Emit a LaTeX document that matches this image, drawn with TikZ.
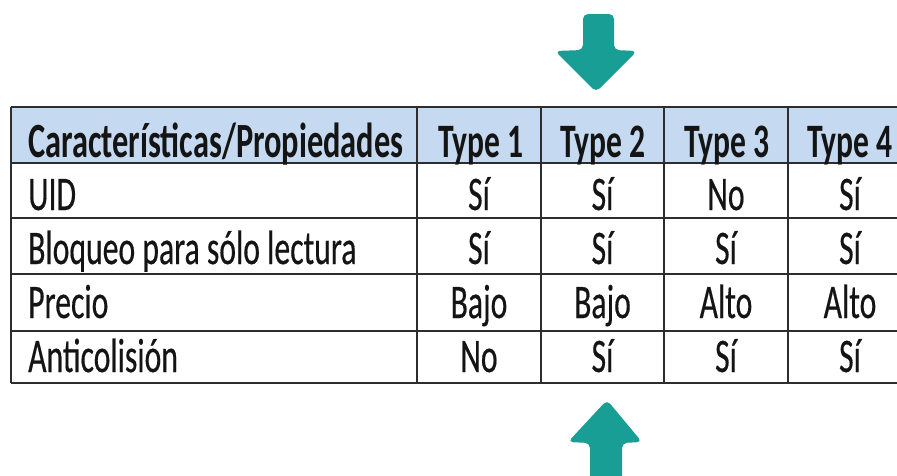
\documentclass[tikz,border=0pt]{standalone}
\usepackage{fontspec}
\setmainfont{Carlito}
\newfontfamily\bodyfont{Carlito}[FakeBold=0.5]
\newfontfamily\headfont{Carlito}[UprightFont=*-Bold]
\definecolor{arrowteal}{RGB}{24,158,148}
\definecolor{hdrblue}{RGB}{197,217,241}
\definecolor{gridgray}{RGB}{45,45,45}
\newcommand\tx[1]{\scalebox{1}[1.52]{#1}}
\begin{document}
\begin{tikzpicture}[x=1pt,y=-1pt,
  cell/.style={anchor=base, inner sep=0pt, font=\bodyfont\fontsize{31.7}{31.7}\selectfont, text=black!92},
  lcell/.style={cell, anchor=base west},
  hcell/.style={cell, font=\headfont\fontsize{31.6}{31.6}\selectfont},
  hlcell/.style={hcell, anchor=base west, font=\headfont\fontsize{32.4}{32.4}\selectfont},
  gridline/.style={draw=gridgray, line width=1.8pt},
  bigarrow/.style={fill=arrowteal, rounded corners=5pt}]
\useasboundingbox (0,0) rectangle (897,475);
\clip (0,0) rectangle (897,475);
\fill[white] (0,0) rectangle (897,475);
% header fill
\fill[hdrblue] (11,107) rectangle (912,163);
% grid
\foreach \yy in {107,163,218,274,331,383} \draw[gridline] (11,\yy) -- (912,\yy);
\foreach \xx in {11,417,541,664,788,912} \draw[gridline] (\xx,107) -- (\xx,383);
% column centres: 479, 602.5, 726, 850
\node[hlcell] (h0) at (28,157) {\tx{Características/Propiedades}};
\node[hcell] (h1) at (481,157) {\tx{Type 1}};
\node[hcell] (h2) at (603,157) {\tx{Type 2}};
\node[hcell] (h3) at (727,157) {\tx{Type 3}};
\node[hcell] (h4) at (850,157) {\tx{Type 4}};
\node[lcell] (r1c0) at (28,210) {\tx{UID}};
\node[cell] (r1c1) at (479,210) {\tx{Sí}};
\node[cell] (r1c2) at (602.5,210) {\tx{Sí}};
\node[cell] (r1c3) at (726,210) {\tx{No}};
\node[cell] (r1c4) at (850,210) {\tx{Sí}};
\node[lcell] (r2c0) at (28,264) {\tx{Bloqueo para sólo lectura}};
\node[cell] (r2c1) at (479,264) {\tx{Sí}};
\node[cell] (r2c2) at (602.5,264) {\tx{Sí}};
\node[cell] (r2c3) at (726,264) {\tx{Sí}};
\node[cell] (r2c4) at (850,264) {\tx{Sí}};
\node[lcell] (r3c0) at (28,318) {\tx{Precio}};
\node[cell] (r3c1) at (479,318) {\tx{Bajo}};
\node[cell] (r3c2) at (602.5,318) {\tx{Bajo}};
\node[cell] (r3c3) at (726,318) {\tx{Alto}};
\node[cell] (r3c4) at (850,318) {\tx{Alto}};
\node[lcell] (r4c0) at (28,372) {\tx{Anticolisión}};
\node[cell] (r4c1) at (479,372) {\tx{No}};
\node[cell] (r4c2) at (602.5,372) {\tx{Sí}};
\node[cell] (r4c3) at (726,372) {\tx{Sí}};
\node[cell] (r4c4) at (850,372) {\tx{Sí}};
% arrows
\fill[bigarrow] (583,50) -- (583,14) -- (614,14) -- (614,50) -- (637,51) -- (596,92) -- (555,51) -- cycle;
\fill[bigarrow] (590,443) -- (590,490) -- (622,490) -- (622,443) -- (642,442) -- (607,400) -- (568,442) -- cycle;
\end{tikzpicture}
\end{document}
